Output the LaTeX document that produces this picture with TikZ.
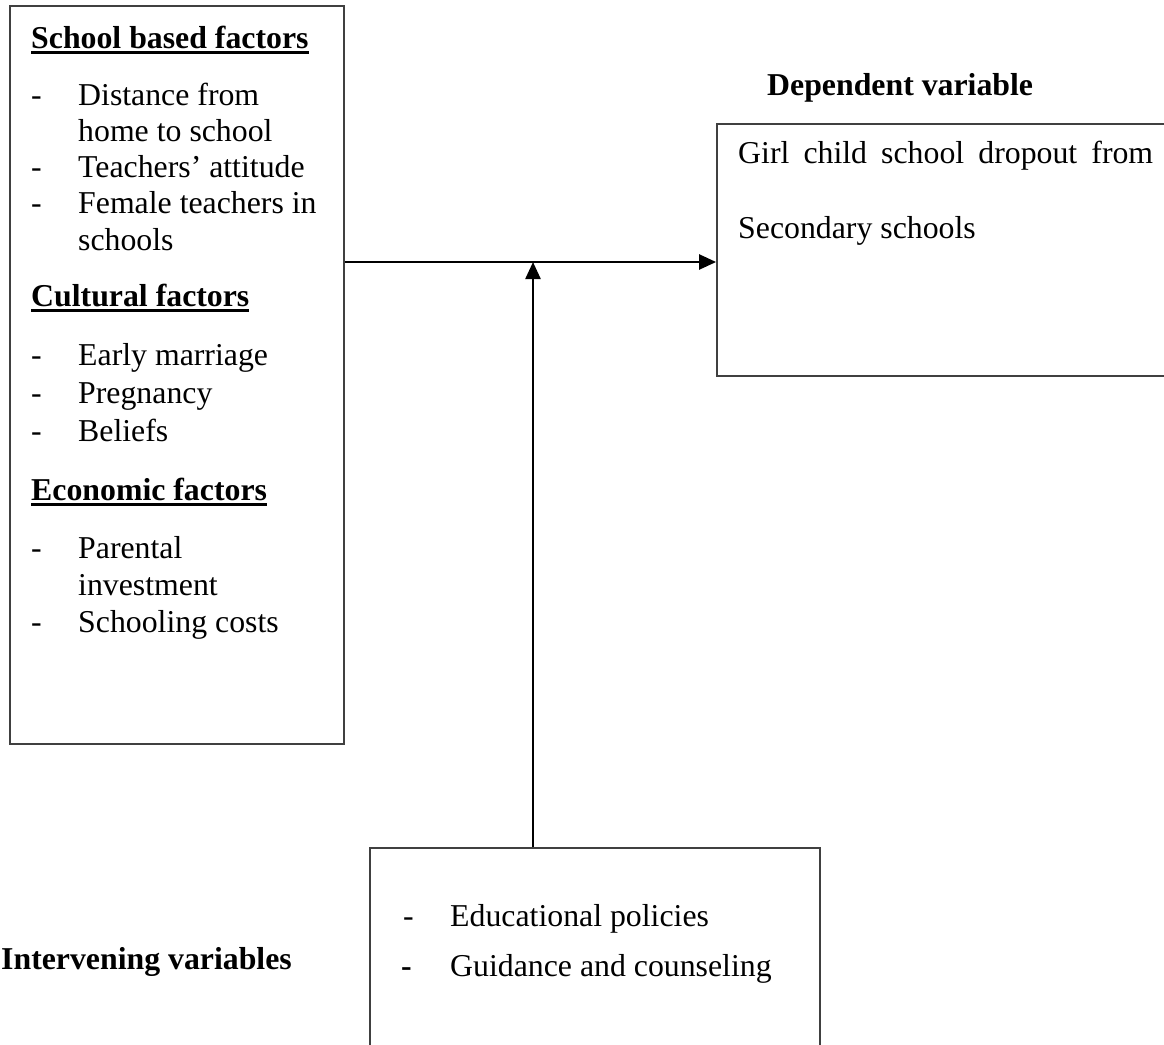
\documentclass[tikz,border=0pt]{standalone}
\usepackage{fontspec}
\setmainfont{Liberation Serif}
\usetikzlibrary{arrows.meta}
\newcommand\hdline[1]{\setbox0\hbox{\bfseries #1}\rlap{\rule[-6pt]{\wd0}{2.8pt}}\box0}
\begin{document}
\begin{tikzpicture}[x=1pt,y=-1pt,
  box/.style={draw=black!75, line width=1.8pt, inner sep=0pt, rectangle},
  txt/.style={anchor=base west, inner sep=0pt, font=\fontsize{31.8}{36}\selectfont},
  btxt/.style={txt, font=\fontsize{31.8}{36}\selectfont\bfseries},
  conn/.style={draw=black, line width=2.4pt, -{Triangle[length=17pt,width=15pt]}}]
\useasboundingbox (0,0) rectangle (1164,1044);
\fill[white] (0,0) rectangle (1164,1044);
% boxes
\node[box, minimum width=334pt, minimum height=738pt] (left) at (177,375) {};
\node[box, minimum width=470pt, minimum height=252pt] (dep) at (952,250) {};
\node[box, minimum width=450pt, minimum height=216pt] (inter) at (595,956) {};
% left box text
\node[txt] (h1) at (31,48) {\hdline{School based factors}};
\node[txt] (d1) at (31,105) {-};
\node[txt] (t1) at (78,105) {Distance from};
\node[txt] (t1b) at (78,141) {home to school};
\node[txt] (d2) at (31,177) {-};
\node[txt] (t2) at (78,177) {Teachers’ attitude};
\node[txt] (d3) at (31,213) {-};
\node[txt] (t3) at (78,213) {Female teachers in};
\node[txt] (t3b) at (78,250) {schools};
\node[txt] (h2) at (31,306) {\hdline{Cultural factors}};
\node[txt] (d4) at (31,365) {-};
\node[txt] (t4) at (78,365) {Early marriage};
\node[txt] (d5) at (31,403) {-};
\node[txt] (t5) at (78,403) {Pregnancy};
\node[txt] (d6) at (31,441) {-};
\node[txt] (t6) at (78,441) {Beliefs};
\node[txt] (h3) at (31,500) {\hdline{Economic factors}};
\node[txt] (d7) at (31,558) {-};
\node[txt] (t7) at (78,558) {Parental};
\node[txt] (t7b) at (78,595) {investment};
\node[txt] (d8) at (31,632) {-};
\node[txt] (t8) at (78,632) {Schooling costs};
% dependent
\node[btxt] (deplab) at (767,95) {Dependent variable};
\node[txt] (dep1) at (738,163) {\hbox to 415pt{Girl\hfill child\hfill school\hfill dropout\hfill from}};
\node[txt] (dep2) at (738,238) {Secondary schools};
% intervening
\node[btxt] (intlab) at (1,969) {Intervening variables};
\node[txt] (d9) at (403,926) {-};
\node[txt] (t9) at (450,926) {Educational policies};
\node[txt] (d10) at (401,976) {\bfseries -};
\node[txt] (t10) at (450,976) {Guidance and counseling};
% connectors
\coordinate (j) at (533,262);
\draw[conn] (left.east |- j) -- (dep.west |- j);
\draw[conn] (inter.north -| j) -- (j);
\end{tikzpicture}
\end{document}
